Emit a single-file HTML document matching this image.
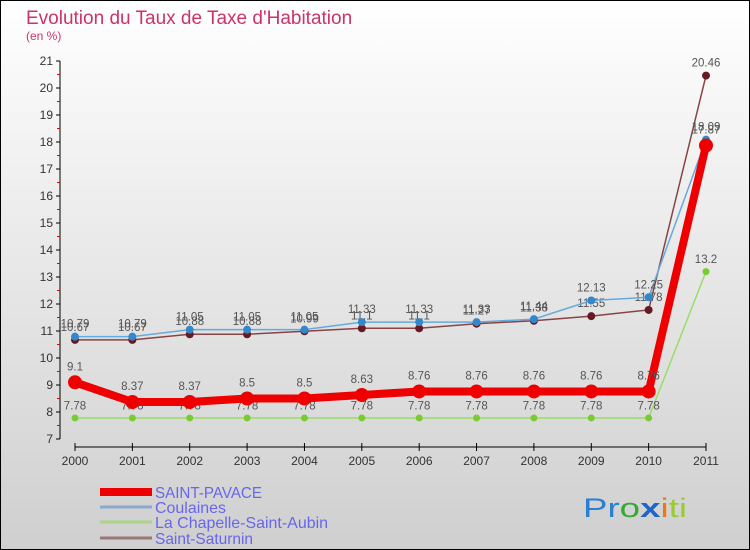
<!DOCTYPE html>
<html><head><meta charset="utf-8"><style>
body{margin:0}
svg{display:block;font-family:"Liberation Sans",sans-serif}
</style></head><body>
<svg id="c" width="750" height="550" xmlns="http://www.w3.org/2000/svg">
<defs><linearGradient id="bg" x1="0" y1="0" x2="0" y2="1"><stop offset="0" stop-color="#ffffff"/><stop offset="1" stop-color="#cfcfcf"/></linearGradient></defs>
<rect x="0.5" y="0.5" width="749" height="549" fill="url(#bg)" stroke="#000"/>
<text x="26" y="24" font-size="19" fill="#cc3366">Evolution du Taux de Taxe d'Habitation</text>
<text x="26" y="40" font-size="12" fill="#cc3366">(en %)</text>
<g id="axes"></g>
<g id="series"></g>
<g id="legend"></g>
<text x="583" y="517" font-size="27" textLength="104" lengthAdjust="spacingAndGlyphs"><tspan fill="#2a7fd0">Pr</tspan><tspan fill="#33aa33">o</tspan><tspan fill="#1a66cc" font-weight="bold">x</tspan><tspan fill="#ee7711">i</tspan><tspan fill="#99cc33">ti</tspan></text>
</svg>
<script>
const years=[2000,2001,2002,2003,2004,2005,2006,2007,2008,2009,2010,2011];
const yTicks=[7,8,9,10,11,12,13,14,15,16,17,18,19,20,21];
const seriesNames=["SAINT-PAVACE","Coulaines","La Chapelle-Saint-Aubin","Saint-Saturnin"];
const saintPavace=[9.1,8.37,8.37,8.5,8.5,8.63,8.76,8.76,8.76,8.76,8.76,17.87];
const coulaines=[10.79,10.79,11.05,11.05,11.05,11.33,11.33,11.33,11.44,12.13,12.25,18.09];
const laChapelle=[7.78,7.78,7.78,7.78,7.78,7.78,7.78,7.78,7.78,7.78,7.78,13.2];
const saintSaturnin=[10.67,10.67,10.88,10.88,10.99,11.1,11.1,11.27,11.38,11.55,11.78,20.46];
const NS="http://www.w3.org/2000/svg";
function X(i){return 75+i*(706-75)/11;}
function Y(v){return 439-(v-7)*27;}
function mk(tag,attrs,parent,txt){const e=document.createElementNS(NS,tag);for(const k in attrs)e.setAttribute(k,attrs[k]);if(txt!==undefined)e.textContent=txt;parent.appendChild(e);return e;}
const ax=document.getElementById('axes');
let e=mk('line',{x1:60,y1:Y(21),x2:60,y2:Y(7),stroke:'#000'},ax);


yTicks.forEach(t=>{
 mk('line',{x1:56,y1:Y(t),x2:60,y2:Y(t),stroke:'#000'},ax);
 if(t<21)mk('line',{x1:57,y1:Y(t+0.5),x2:60,y2:Y(t+0.5),stroke:'#e00'},ax);
 const l=mk('text',{x:53,y:Y(t)+4,'font-size':12,'text-anchor':'end',fill:'#333'},ax,String(t));
 
 
});
e=mk('line',{x1:75,y1:447,x2:706,y2:447,stroke:'#000'},ax);


years.forEach((y,i)=>{
 mk('line',{x1:X(i),y1:443,x2:X(i),y2:451,stroke:'#000'},ax);
 const l=mk('text',{x:X(i),y:465,'font-size':12,'text-anchor':'middle',fill:'#333'},ax,String(y));
 
 
});
const sg=document.getElementById('series');
const defs=[
 {d:laChapelle,c:'#99dd66',dot:'#77cc33',w:1.5,r:3.5,n:'la-chapelle'},
 {d:saintSaturnin,c:'#884444',dot:'#661a22',w:1.5,r:4,n:'saint-saturnin'},
 {d:coulaines,c:'#66aadd',dot:'#3388cc',w:1.5,r:4,n:'coulaines'},
 {d:saintPavace,c:'#ee0000',dot:'#ee0000',w:8,r:7,n:'saint-pavace'}
];
defs.forEach(s=>{
 const g=mk('g',{},sg);
 
 
 mk('polyline',{points:s.d.map((v,i)=>X(i)+','+Y(v)).join(' '),fill:'none',stroke:s.c,'stroke-width':s.w},g);
 s.d.forEach((v,i)=>{
  const p=mk('circle',{cx:X(i),cy:Y(v),r:s.r,fill:s.dot},g);
  
  
  const t=mk('text',{x:X(i),y:Y(v)-(s.r+5),'font-size':11.5,'text-anchor':'middle',fill:'#555'},g,String(v));
  
  
 });
});
const lg=document.getElementById('legend');
const lc=[['#ee0000',8],['#88aacc',3],['#aad488',3],['#997777',3]];
const ly=[492,507,522,538];
const lw=[107,71,173,98];
seriesNames.forEach((n,i)=>{
 const g=mk('g',{},lg);
 
 
 mk('line',{x1:100,y1:ly[i],x2:152,y2:ly[i],stroke:lc[i][0],'stroke-width':lc[i][1]},g);
 mk('text',{x:155,y:ly[i]+6,'font-size':16,fill:'#6666ee',textLength:lw[i],lengthAdjust:'spacingAndGlyphs'},g,n);
});
</script>
</body></html>
